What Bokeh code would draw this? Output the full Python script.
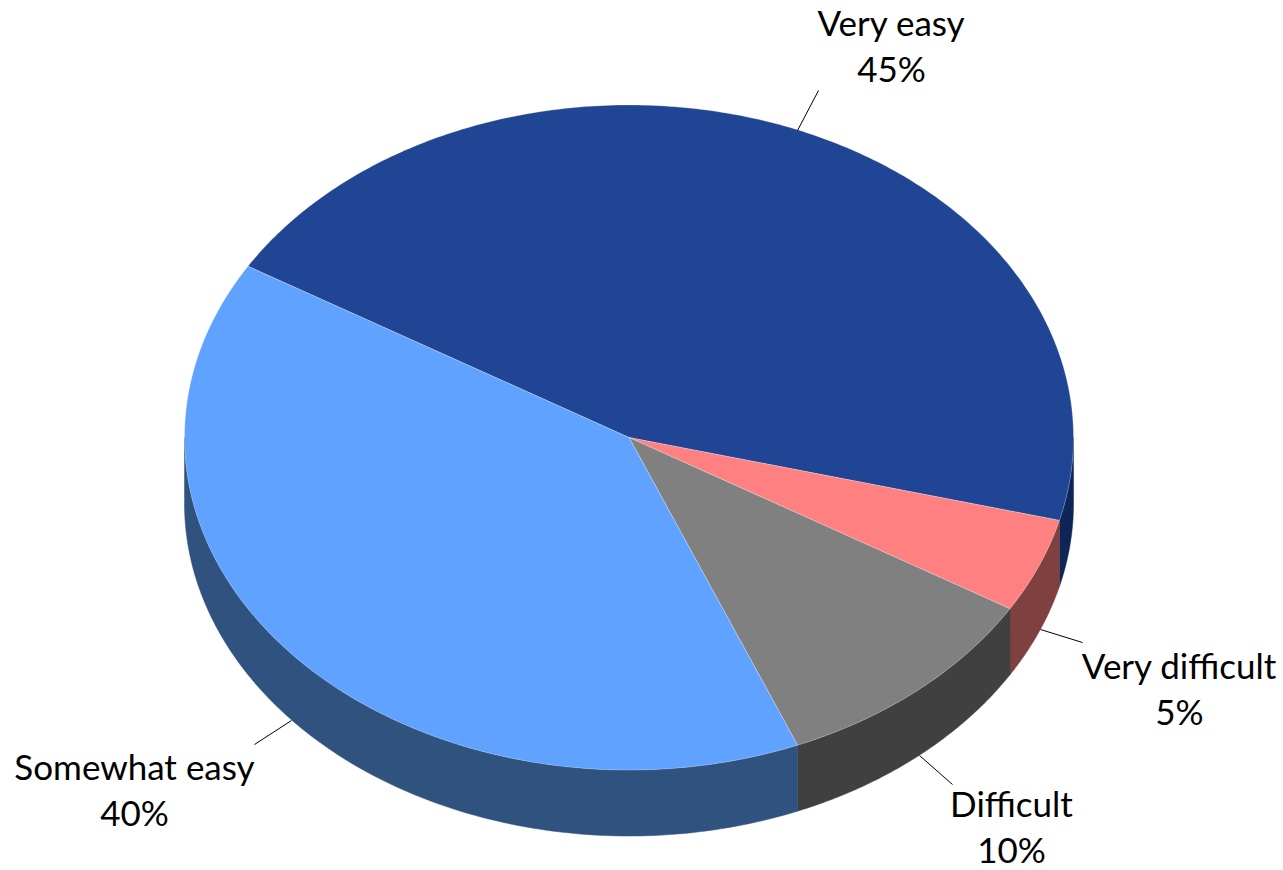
import numpy as np
from bokeh.plotting import figure
from bokeh.models import Range1d
from bokeh.core.properties import value
from bokeh.embed import file_html
from bokeh.resources import INLINE

categories = ["Very easy", "Very difficult", "Difficult", "Somewhat easy"]
shares = [45.4, 4.6, 10.2, 39.8]
top_colors = ["#1F4594", "#FF8080", "#808080", "#5FA2FF"]
side_colors = ["#0F2557", "#7F4040", "#404040", "#2F527E"]

CX, CY, RX, RY, DEPTH = 628.5, 437.0, 444.5, 332.5, 66.0
START = -59.0

p = figure(width=1283, height=870, output_backend="svg", toolbar_location=None,
           x_range=Range1d(0, 1283), y_range=Range1d(870, 0), min_border=0)
p.axis.visible = False
p.grid.visible = False
p.outline_line_color = None

def pt(a):
    r = np.radians(a)
    return CX + RX * np.sin(r), CY - RY * np.cos(r)

edges = START + np.cumsum([0] + shares) * 360.0 / sum(shares)

# sides: the visible part of the rim, between 90 and 270 degrees clockwise from top
for s, e, col in zip(edges[:-1], edges[1:], side_colors):
    for shift in (0, 360, -360):
        lo, hi = max(s + shift, 90), min(e + shift, 270)
        if hi > lo:
            t = np.linspace(lo, hi, 120)
            x, y = pt(t)
            p.patch(np.r_[x, x[::-1]], np.r_[y, y[::-1] + DEPTH],
                    fill_color=col, line_color=col, line_width=0.5)

# top faces
for s, e, col in zip(edges[:-1], edges[1:], top_colors):
    t = np.linspace(s, e, 240)
    x, y = pt(t)
    p.patch(np.r_[CX, x], np.r_[CY, y], fill_color=col, line_color="#FFFFFF",
            line_width=0.5, line_alpha=0.5)

# leader lines
lead_x = [[797, 818], [1040, 1082], [919, 952], [291, 254]]
lead_y = [[130, 90], [629, 642], [755, 784], [720, 744]]
p.multi_line(lead_x, lead_y, line_color="#000000", line_width=1)

# labels
lab_x = [891, 1179, 1011, 134]
lab_y = [21, 664, 802, 765]
for c, v, x, y in zip(categories, shares, lab_x, lab_y):
    for txt, yy in ((c, y), (f"{v:.0f}%", y + 46)):
        p.text([x], [yy], text=[txt], text_font=value("Lato"), text_font_size="35px",
               text_align="center", text_baseline="middle", text_color="#000000")

open("out.html", "w").write(file_html(p, INLINE))
